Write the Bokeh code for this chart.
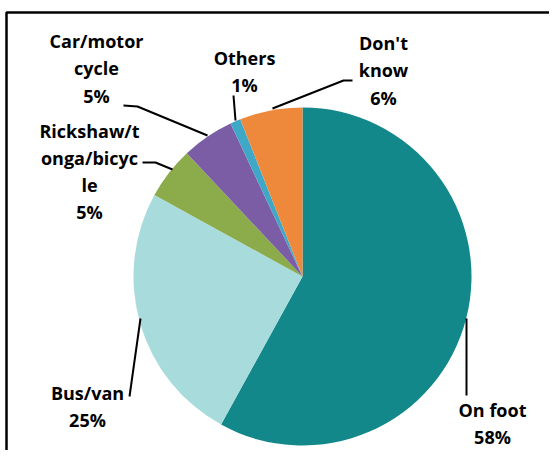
import numpy as np
from bokeh.plotting import figure
from bokeh.models import Range1d, ColumnDataSource
from bokeh.core.properties import value
from bokeh.embed import file_html
from bokeh.resources import INLINE

# ---- data (clockwise from 12 o'clock) ----
categories = ["On foot", "Bus/van", "Rickshaw/tonga/bicycle", "Car/motor cycle", "Others", "Don't know"]
shares = [58, 25, 5, 5, 1, 6]
label_texts = ["On foot\n58%", "Bus/van\n25%", "Rickshaw/t\nonga/bicyc\nle\n5%",
               "Car/motor\ncycle\n5%", "Others\n1%", "Don't\nknow\n6%"]
colors = ["#12888a", "#a8dcdc", "#8cab4b", "#7a5da4", "#3ea8c6", "#ee893b"]

# ---- layout (pixel-like coordinates, pie centre at 0,0) ----
R = 169
label_pos = [(190, -147), (-215, -130), (-213, 105), (-206, 208), (-58, 205), (81, 206)]
leaders = [
    [(164, -42), (164, -119)],
    [(-162, -42), (-173, -120)],
    [(-160, 114), (-147, 114), (-130, 107)],
    [(-179, 171), (-165, 170), (-95, 141)],
    [(-69, 181), (-67, 156)],
    [(50, 196), (41, 196), (-30, 168)],
]

vals = np.array(shares, dtype=float)
frac = vals / vals.sum()
cum_end = np.cumsum(frac)
cum_start = cum_end - frac
start_angle = np.pi / 2 - 2 * np.pi * cum_end
end_angle = np.pi / 2 - 2 * np.pi * cum_start

src = ColumnDataSource(dict(cat=categories, start=start_angle, end=end_angle, color=colors))

W, H = 549, 450
p = figure(width=W, height=H, output_backend="svg", toolbar_location=None,
           x_range=Range1d(-302, -302 + W), y_range=Range1d(276 - H, 276),
           min_border=0, min_border_left=0, min_border_right=0,
           min_border_top=0, min_border_bottom=0)
p.axis.visible = False
p.grid.visible = False
p.outline_line_color = None
p.background_fill_color = "white"
p.border_fill_color = "white"

p.wedge(x=0, y=0, radius=R, radius_units="data", start_angle="start", end_angle="end",
        direction="anticlock", fill_color="color", line_color=None, source=src)

for pts in leaders:
    xs = [a for a, b in pts]
    ys = [b for a, b in pts]
    p.line(xs, ys, line_color="black", line_width=2)

lsrc = ColumnDataSource(dict(x=[a for a, b in label_pos], y=[b for a, b in label_pos], t=label_texts))
p.text(x="x", y="y", text="t", source=lsrc, text_align="center", text_baseline="middle",
       text_font=value("Open Sans"), text_font_style="bold", text_font_size="18px",
       text_line_height=1.13, text_color="black")

# frame: left and top edges only
p.line([-296, -296, 260], [-180, 264, 264], line_color="black", line_width=2.5)

open("out.html", "w").write(file_html(p, INLINE))
